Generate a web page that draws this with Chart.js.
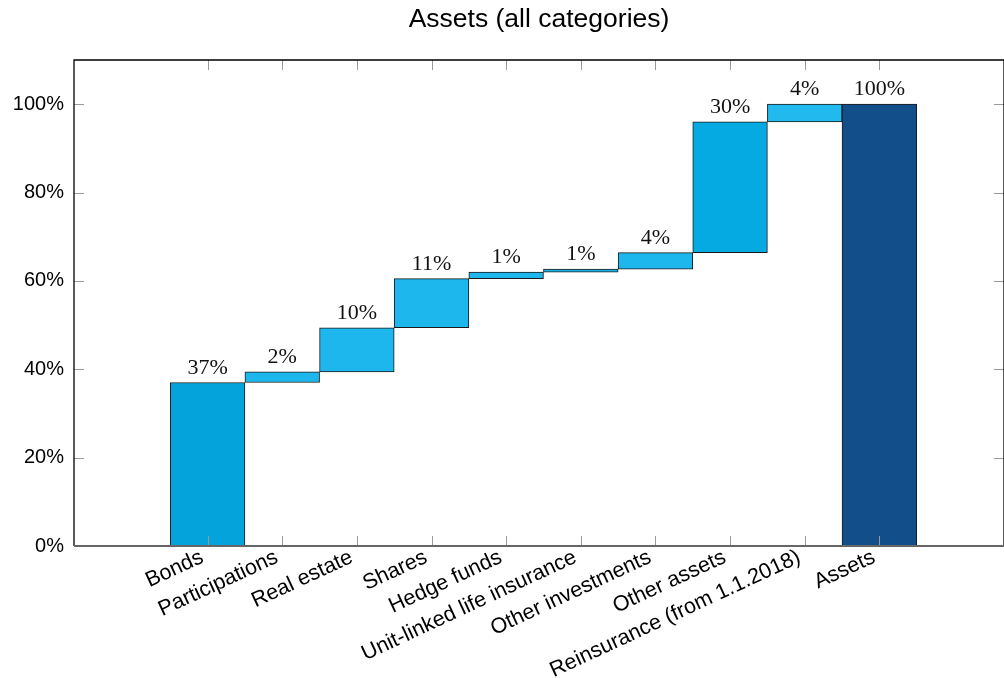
<!DOCTYPE html>
<html>
<head>
<meta charset="utf-8">
<script src="https://cdn.jsdelivr.net/npm/chart.js@4/dist/chart.umd.min.js"></script>
<style>
  html, body { margin: 0; padding: 0; background: #fff; }
  #wrap { width: 1004px; height: 678px; }
</style>
</head>
<body>
<div id="wrap"><canvas id="c" width="1004" height="678"></canvas></div>
<script>
const categories = ["Bonds", "Participations", "Real estate", "Shares", "Hedge funds",
  "Unit-linked life insurance", "Other investments", "Other assets",
  "Reinsurance (from 1.1.2018)", "Assets"];
const barStart = [0, 37.0, 39.4, 49.4, 60.5, 62.0, 62.65, 66.4, 96.0, 0];
const barEnd   = [37.0, 39.4, 49.4, 60.5, 62.0, 62.65, 66.4, 96.0, 100, 100];
const valueLabels = ["37%", "2%", "10%", "11%", "1%", "1%", "4%", "30%", "4%", "100%"];
const yTicks = [0, 20, 40, 60, 80, 100];
const barColors = ["#05a3dc", "#1db6ed", "#1db6ed", "#1db6ed", "#1db6ed",
  "#1db6ed", "#1db6ed", "#05aae3", "#22b9ef", "#124f8a"];

const data = categories.map((c, i) => ({ x: i, y: [barStart[i], barEnd[i]] }));

const framePlugin = {
  id: 'frame',
  afterDatasetsDraw(chart) {
    const ctx = chart.ctx;
    const { left, right, top, bottom } = chart.chartArea;
    const xs = chart.scales.x, ys = chart.scales.y;
    const tl = 10;
    ctx.save();
    ctx.strokeStyle = '#9a9a9a';
    ctx.lineWidth = 1;
    ctx.beginPath();
    categories.forEach((c, i) => {
      const px = Math.round(xs.getPixelForValue(i)) + 0.5;
      ctx.moveTo(px, bottom); ctx.lineTo(px, bottom - tl);
      ctx.moveTo(px, top); ctx.lineTo(px, top + tl);
    });
    yTicks.forEach(v => {
      const py = Math.round(ys.getPixelForValue(v)) + 0.5;
      ctx.moveTo(left, py); ctx.lineTo(left + tl, py);
      ctx.moveTo(right, py); ctx.lineTo(right - tl, py);
    });
    ctx.stroke();
    ctx.strokeStyle = '#000';
    ctx.lineWidth = 1.3;
    ctx.beginPath();
    ctx.moveTo(left, bottom); ctx.lineTo(left, top); ctx.lineTo(right, top); ctx.lineTo(right, bottom);
    ctx.stroke();
    ctx.strokeStyle = '#666';
    ctx.lineWidth = 2;
    ctx.beginPath();
    ctx.moveTo(left, bottom); ctx.lineTo(right, bottom);
    ctx.stroke();
    const meta = chart.getDatasetMeta(0);
    ctx.fillStyle = '#111';
    ctx.font = '22px "Liberation Serif"';
    ctx.textAlign = 'center';
    ctx.textBaseline = 'alphabetic';
    meta.data.forEach((bar, i) => {
      const topY = Math.min(bar.y, bar.base);
      ctx.fillText(valueLabels[i], bar.x, topY - 9);
    });
    ctx.restore();
  }
};

new Chart(document.getElementById('c'), {
  type: 'bar',
  data: {
    datasets: [{
      data: data,
      backgroundColor: barColors,
      borderColor: '#1a1a1a',
      borderWidth: 1,
      borderSkipped: false,
      barPercentage: 1.0,
      categoryPercentage: 1.0
    }]
  },
  options: {
    responsive: false,
    animation: false,
    devicePixelRatio: 1,
    layout: { padding: { left: 0, right: 0, top: 0, bottom: 0 } },
    plugins: {
      legend: { display: false },
      tooltip: { enabled: false },
      title: {
        display: true,
        fullSize: false,
        text: 'Assets (all categories)',
        color: '#000',
        font: { family: 'Liberation Sans', size: 26.5, weight: 'normal' },
        padding: { top: 4, bottom: 24.2 }
      }
    },
    scales: {
      x: {
        type: 'linear',
        offset: false,
        min: -1.79,
        max: 10.67,
        afterBuildTicks: s => { s.ticks = categories.map((c, i) => ({ value: i })); },
        afterFit: s => { s.height = 678 - 546; },
        grid: { display: false, drawTicks: false, offset: false },
        border: { display: false },
        ticks: {
          autoSkip: false,
          minRotation: 25,
          maxRotation: 25,
          padding: -4,
          color: '#000',
          font: { family: 'Liberation Sans', size: 21.5 },
          callback: v => categories[v] + ' '
        }
      },
      y: {
        min: 0,
        max: 110,
        afterBuildTicks: s => { s.ticks = yTicks.map(v => ({ value: v })); },
        afterFit: s => { s.width = 74; },
        grid: { display: false, drawTicks: false },
        border: { display: false },
        ticks: {
          padding: 10,
          color: '#000',
          font: { family: 'Liberation Sans', size: 20 },
          callback: v => v + '%'
        }
      }
    }
  },
  plugins: [framePlugin]
});
</script>
</body>
</html>
